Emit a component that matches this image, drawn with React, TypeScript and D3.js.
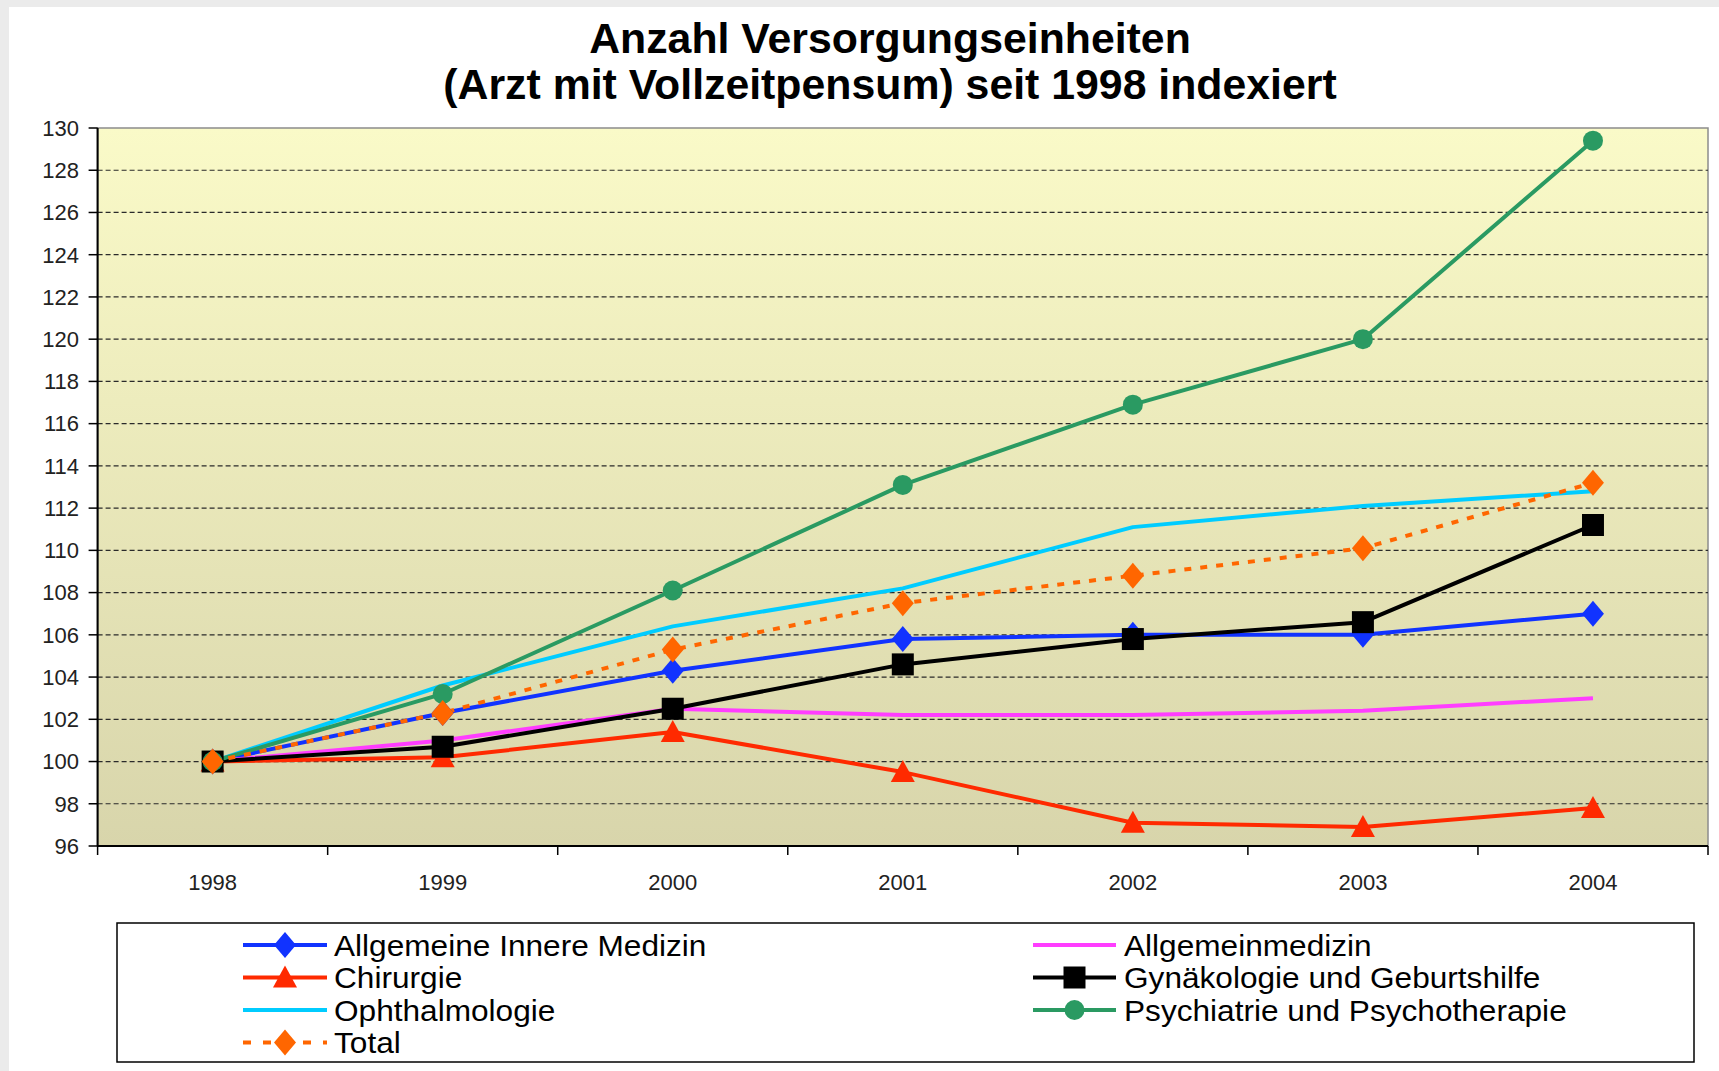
import React from 'react';
import * as d3 from 'd3';

const years = ['1998', '1999', '2000', '2001', '2002', '2003', '2004'];
const innereMedizin = [100, 102.3, 104.3, 105.8, 106.0, 106.0, 107.0];
const allgemeinmedizin = [100, 101.0, 102.5, 102.2, 102.2, 102.4, 103.0];
const chirurgie = [100, 100.2, 101.4, 99.5, 97.1, 96.9, 97.8];
const gynaekologie = [100, 100.7, 102.5, 104.6, 105.8, 106.6, 111.2];
const ophthalmologie = [100, 103.6, 106.4, 108.2, 111.1, 112.1, 112.8];
const psychiatrie = [100, 103.2, 108.1, 113.1, 116.9, 120.0, 129.4];
const total = [100, 102.3, 105.3, 107.5, 108.8, 110.1, 113.2];
const yTicks = [96, 98, 100, 102, 104, 106, 108, 110, 112, 114, 116, 118, 120, 122, 124, 126, 128, 130];

const titleLines = ['Anzahl Versorgungseinheiten', '(Arzt mit Vollzeitpensum) seit 1998 indexiert'];

type Marker = 'diamond' | 'triangle' | 'square' | 'circle' | 'none';
interface Series { name: string; values: number[]; color: string; marker: Marker; dash?: string; width: number; }

const series: Series[] = [
  { name: 'Allgemeine Innere Medizin', values: innereMedizin, color: '#1133FF', marker: 'diamond', width: 4 },
  { name: 'Allgemeinmedizin', values: allgemeinmedizin, color: '#FF3DFF', marker: 'none', width: 4 },
  { name: 'Chirurgie', values: chirurgie, color: '#FF2A00', marker: 'triangle', width: 4 },
  { name: 'Gynäkologie und Geburtshilfe', values: gynaekologie, color: '#000000', marker: 'square', width: 4 },
  { name: 'Ophthalmologie', values: ophthalmologie, color: '#00CCFF', marker: 'none', width: 4 },
  { name: 'Psychiatrie und Psychotherapie', values: psychiatrie, color: '#2A9A62', marker: 'circle', width: 4 },
  { name: 'Total', values: total, color: '#FF6600', marker: 'diamond', dash: '7,9', width: 4 },
];

const FONT = '"Liberation Sans", Arial, sans-serif';

function markerPath(m: Marker, cx: number, cy: number): string {
  if (m === 'diamond') return `M${cx},${cy - 13}L${cx + 11},${cy}L${cx},${cy + 13}L${cx - 11},${cy}Z`;
  if (m === 'triangle') return `M${cx},${cy - 12}L${cx + 12},${cy + 10}L${cx - 12},${cy + 10}Z`;
  if (m === 'square') return `M${cx - 11},${cy - 11}h22v22h-22Z`;
  if (m === 'circle') return `M${cx - 10},${cy}a10,10 0 1,0 20,0a10,10 0 1,0 -20,0`;
  return '';
}

export default function App() {
  const W = 1719, H = 1071;
  const left = 97.6, right = 1708, top = 128, bottom = 846;
  const x = d3.scaleBand<string>().domain(years).range([left, right]);
  const y = d3.scaleLinear().domain([96, 130]).range([bottom, top]);
  const cx = (d: string) => (x(d) as number) + x.bandwidth() / 2;
  const line = d3.line<number>().x((_, i) => cx(years[i])).y(v => y(v));
  const boundaries = years.map(d => x(d) as number).concat([right]);

  const legendRows = [945, 977.5, 1010, 1042.5];
  const legendCols = [{ l0: 243, l1: 327, tx: 334 }, { l0: 1033, l1: 1116, tx: 1124 }];

  return (
    <svg width={W} height={H} style={{ position: 'absolute', left: 0, top: 0 }} fontFamily={FONT}>
      <defs>
        <linearGradient id="bg" x1="0" y1="0" x2="0" y2="1">
          <stop offset="0" stopColor="#FAFAC8" />
          <stop offset="1" stopColor="#D8D5AB" />
        </linearGradient>
      </defs>
      <rect x={0} y={0} width={W} height={H} fill="#EBEBEB" />
      <rect x={9} y={7} width={W - 9} height={H - 7} fill="#FFFFFF" />
      {titleLines.map((t, i) => (
        <text key={i} x={890} y={53 + i * 46} textAnchor="middle" fontSize={42.8} fontWeight="bold" fill="#000">{t}</text>
      ))}
      <rect x={left} y={top} width={right - left} height={bottom - top} fill="url(#bg)" stroke="#8C8C8C" strokeWidth={1.5} />
      {yTicks.filter(v => v > 96 && v < 130).map(v => (
        <line key={v} x1={left} x2={right} y1={y(v)} y2={y(v)} stroke="#2A2A2A" strokeWidth={1.2} strokeDasharray="5,3" />
      ))}
      <line x1={left} x2={left} y1={top} y2={bottom} stroke="#000" strokeWidth={2} />
      <line x1={left} x2={right} y1={bottom} y2={bottom} stroke="#000" strokeWidth={2} />
      {yTicks.map(v => (
        <g key={v}>
          <line x1={left - 9} x2={left} y1={y(v)} y2={y(v)} stroke="#000" strokeWidth={1.5} />
          <text x={79} y={y(v) + 7.8} textAnchor="end" fontSize={22} fill="#222">{v}</text>
        </g>
      ))}
      {boundaries.map((b, i) => (
        <line key={i} x1={b} x2={b} y1={bottom} y2={bottom + 9} stroke="#000" strokeWidth={1.5} />
      ))}
      {years.map(d => (
        <text key={d} x={cx(d)} y={889.5} textAnchor="middle" fontSize={22} fill="#222">{d}</text>
      ))}
      {series.map(s => (
        <path key={s.name} d={line(s.values) || ''} fill="none" stroke={s.color} strokeWidth={s.width}
          strokeDasharray={s.dash} strokeLinejoin="round" />
      ))}
      {series.map(s => (
        <g key={s.name + 'm'}>
          {s.values.map((v, i) => s.marker !== 'none' ? (
            <path key={i} d={markerPath(s.marker, cx(years[i]), y(v))} fill={s.color} />
          ) : null)}
        </g>
      ))}
      <rect x={117} y={923} width={1577} height={139} fill="#FFFFFF" stroke="#000" strokeWidth={1.5} />
      {series.map((s, i) => {
        const col = legendCols[i % 2];
        const ry = legendRows[Math.floor(i / 2)];
        const mid = (col.l0 + col.l1) / 2;
        return (
          <g key={s.name + 'l'}>
            <line x1={col.l0} x2={col.l1} y1={ry} y2={ry} stroke={s.color} strokeWidth={s.width}
              strokeDasharray={s.dash ? '8,12' : undefined} />
            {s.marker !== 'none' && <path d={markerPath(s.marker, mid, ry)} fill={s.color} />}
            <text transform={`translate(${col.tx},${ry + 10.5}) scale(1.09,1)`} fontSize={29} fill="#000">{s.name}</text>
          </g>
        );
      })}
    </svg>
  );
}
